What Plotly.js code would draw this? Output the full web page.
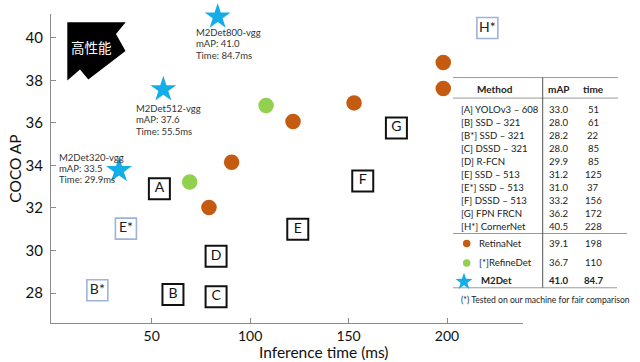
<!DOCTYPE html>
<html>
<head>
<meta charset="utf-8">
<script src="https://cdn.plot.ly/plotly-3.0.1.min.js"></script>
<style>html,body{margin:0;padding:0;background:#fff}#chart{width:640px;height:362px}</style>
</head>
<body>
<div id="chart"></div>
<script>
// ---- data ----
const boxLabels = ['A', 'B', 'C', 'D', 'E', 'F', 'G'];
const boxTime   = [53.9, 60.8, 82.7, 82.7, 124.2, 157.2, 174.3];
const boxAP     = [32.9, 27.93, 27.83, 29.73, 31.0, 33.27, 35.76];

const starBoxLabels = ['B*', 'E*', 'H*'];
const starBoxTime   = [22.4, 36.9, 220.5];
const starBoxAP     = [28.13, 31.03, 40.46];

const retinaTime = [79.1, 90.6, 121.8, 152.8, 198.1, 198.1];
const retinaAP   = [32.02, 34.15, 36.07, 36.94, 37.62, 38.84];

const refineTime = [69.3, 108.1];
const refineAP   = [33.22, 36.82];

const m2detNames = ['M2Det320-vgg', 'M2Det512-vgg', 'M2Det800-vgg'];
const m2detTime  = [33.4, 55.9, 83.5];
const m2detAP    = [33.77, 37.57, 40.99];
const m2detMAPText  = ['33.5', '37.6', '41.0'];
const m2detTimeText = ['29.9', '55.5', '84.7'];

const tableMethods = ['[A] YOLOv3 \u2013 608', '[B] SSD \u2013 321', '[B*] SSD \u2013 321', '[C] DSSD \u2013 321',
  '[D] R-FCN', '[E] SSD \u2013 513', '[E*] SSD \u2013 513', '[F] DSSD \u2013 513', '[G] FPN FRCN', '[H*] CornerNet'];
const tableMAP  = ['33.0', '28.0', '28.2', '28.0', '29.9', '31.2', '31.0', '33.2', '36.2', '40.5'];
const tableTime = ['51', '61', '22', '85', '85', '125', '37', '156', '172', '228'];

const keyNames = ['RetinaNet', '[*]RefineDet', '<b>M2Det</b>'];
const keyMAP   = ['39.1', '36.7', '<b>41.0</b>'];
const keyTime  = ['198', '110', '<b>84.7</b>'];

const xTicks = [50, 100, 150, 200];
const yTicks = [28, 30, 32, 34, 36, 38, 40];

// ---- styling / layout helpers ----
const ORANGE = '#c55a11', GREEN = '#92d050', BLUE = '#13aee8';
const FONT = 'Lato, "Open Sans", sans-serif';
const TFS = 9.6; // table font size
const L = 51, R = 523, T = 14, B = 322.7;
const px = x => (x - L) / (R - L);
const py = y => (B - y) / (B - T);

const traces = [
  {
    type: 'scatter', mode: 'markers+text', x: boxTime, y: boxAP, text: boxLabels,
    textposition: 'middle center', textfont: {family: FONT, size: 14, color: '#111'},
    marker: {symbol: 'square-open', size: 21, color: '#111', line: {width: 2}},
    hoverinfo: 'skip', cliponaxis: false
  },
  {
    type: 'scatter', mode: 'markers+text', x: starBoxTime, y: starBoxAP, text: starBoxLabels,
    textposition: 'middle center', textfont: {family: FONT, size: 14, color: '#222'},
    marker: {symbol: 'square-open', size: 21, color: '#9db3dc', line: {width: 1.6}},
    hoverinfo: 'skip', cliponaxis: false
  },
  {
    type: 'scatter', mode: 'markers', x: retinaTime, y: retinaAP,
    marker: {symbol: 'circle', size: 15.5, color: ORANGE}, cliponaxis: false
  },
  {
    type: 'scatter', mode: 'markers', x: refineTime, y: refineAP,
    marker: {symbol: 'circle', size: 15.5, color: GREEN}, cliponaxis: false
  },
  {
    type: 'scatter', mode: 'markers', x: m2detTime, y: m2detAP,
    marker: {symbol: 'star', size: 19.5, color: BLUE}, cliponaxis: false
  }
];

const annotations = [];
const shapes = [];

// star labels (offsets in pixels from the star)
const labelOffsets = [[-61.7, -13.3], [-29, 19], [-23.4, 15.6]];
m2detNames.forEach((n, i) => {
  const lines = [n, 'mAP: ' + m2detMAPText[i], 'Time: ' + m2detTimeText[i] + 'ms'];
  lines.forEach((t, k) => {
    annotations.push({
      x: m2detTime[i], y: m2detAP[i], xref: 'x', yref: 'y', text: t, showarrow: false,
      xanchor: 'left', yanchor: 'middle',
      xshift: labelOffsets[i][0], yshift: -(labelOffsets[i][1] + k * 11.4),
      font: {family: FONT, size: 9.5, color: '#333'}
    });
  });
});

// table text
const hdrY = 89.3;
[['<b>Method</b>', 495], ['<b>mAP</b>', 558.5], ['<b>time</b>', 593]].forEach(h => {
  annotations.push({xref: 'paper', yref: 'paper', x: px(h[1]), y: py(hdrY), text: h[0], showarrow: false,
    xanchor: 'center', yanchor: 'middle', font: {family: FONT, size: TFS + 0.4, color: '#222'}});
});
tableMethods.forEach((m, i) => {
  const yy = py(109.5 + i * 13.0);
  annotations.push({xref: 'paper', yref: 'paper', x: px(458.5), y: yy, text: m, showarrow: false,
    xanchor: 'left', yanchor: 'middle', font: {family: FONT, size: TFS, color: '#222'}});
  annotations.push({xref: 'paper', yref: 'paper', x: px(558.5), y: yy, text: tableMAP[i], showarrow: false,
    xanchor: 'center', yanchor: 'middle', font: {family: FONT, size: TFS, color: '#222'}});
  annotations.push({xref: 'paper', yref: 'paper', x: px(593), y: yy, text: tableTime[i], showarrow: false,
    xanchor: 'center', yanchor: 'middle', font: {family: FONT, size: TFS, color: '#222'}});
});
const keyY = [243.3, 262.7, 280.7];
keyNames.forEach((m, i) => {
  const yy = py(keyY[i]);
  annotations.push({xref: 'paper', yref: 'paper', x: px(i === 2 ? 478.5 : 476.5), y: yy, text: m, showarrow: false,
    xanchor: 'left', yanchor: 'middle', font: {family: FONT, size: TFS, color: '#222'}});
  annotations.push({xref: 'paper', yref: 'paper', x: px(558.5), y: yy, text: keyMAP[i], showarrow: false,
    xanchor: 'center', yanchor: 'middle', font: {family: FONT, size: TFS, color: '#222'}});
  annotations.push({xref: 'paper', yref: 'paper', x: px(593), y: yy, text: keyTime[i], showarrow: false,
    xanchor: 'center', yanchor: 'middle', font: {family: FONT, size: TFS, color: '#222'}});
});
annotations.push({xref: 'paper', yref: 'paper', x: px(545.5), y: py(299.5),
  text: '(*) Tested on our machine for fair comparison', showarrow: false,
  xanchor: 'center', yanchor: 'middle', font: {family: FONT, size: 8.6, color: '#222'}});

// table lines
const hline = (x0, x1, y) => shapes.push({type: 'line', xref: 'paper', yref: 'paper',
  x0: px(x0), x1: px(x1), y0: py(y), y1: py(y), line: {color: '#9a9a9a', width: 1}});
hline(453, 618, 77.5);
hline(453, 618, 98);
hline(453, 627, 233.3);
hline(453, 617, 287.5);
shapes.push({type: 'line', xref: 'paper', yref: 'paper', x0: px(542.7), x1: px(542.7),
  y0: py(77.5), y1: py(287.5), line: {color: '#555', width: 1}});

// key markers in the table
const circ = (cx, cy, d, col) => shapes.push({type: 'circle', xref: 'paper', yref: 'paper',
  x0: px(cx - d / 2), x1: px(cx + d / 2), y0: py(cy + d / 2), y1: py(cy - d / 2),
  fillcolor: col, line: {width: 0}});
circ(466.7, 243.3, 7.5, ORANGE);
circ(466.7, 262.7, 7.5, GREEN);
(function () {
  const cx = 464, cy = 281.5, ro = 9, ri = 3.6;
  let d = '';
  for (let k = 0; k < 10; k++) {
    const r = k % 2 === 0 ? ro : ri;
    const a = -Math.PI / 2 + k * Math.PI / 5;
    const X = px(cx + r * Math.cos(a)), Y = py(cy + r * Math.sin(a));
    d += (k === 0 ? 'M' : 'L') + X.toFixed(5) + ',' + Y.toFixed(5);
  }
  shapes.push({type: 'path', xref: 'paper', yref: 'paper', path: d + 'Z', fillcolor: BLUE, line: {width: 0}});
})();

// "高性能" badge
(function () {
  const pts = [[67.3, 22.3], [125.7, 22.3], [116, 34], [125.5, 51], [88.3, 79.5], [80, 69.5], [67.3, 80.5]];
  const d = pts.map((p, k) => (k ? 'L' : 'M') + px(p[0]).toFixed(5) + ',' + py(p[1]).toFixed(5)).join('') + 'Z';
  shapes.push({type: 'path', xref: 'paper', yref: 'paper', path: d, fillcolor: '#000', line: {width: 0}});
})();
annotations.push({xref: 'paper', yref: 'paper', x: px(91.5), y: py(46.5), text: '高性能', showarrow: false,
  xanchor: 'center', yanchor: 'middle', font: {family: '"Noto Sans CJK JP", sans-serif', size: 13.5, color: '#fff'}});

// x axis title (offset to the right as in the reference)
annotations.push({xref: 'paper', yref: 'paper', x: px(323), y: py(352), text: 'Inference time (ms)', showarrow: false,
  xanchor: 'center', yanchor: 'middle', font: {family: FONT, size: 15.5, color: '#111'}});

const layout = {
  width: 640, height: 362,
  margin: {l: L, r: 640 - R, t: T, b: 362 - B, pad: 0},
  paper_bgcolor: '#fff', plot_bgcolor: '#fff',
  showlegend: false,
  font: {family: FONT, color: '#111'},
  xaxis: {
    range: [-1.15, 238.6], tickvals: xTicks, ticktext: xTicks.map(String),
    showgrid: false, zeroline: false, showline: true, linecolor: '#8a8a8a', linewidth: 1,
    ticks: 'inside', ticklen: 5, tickcolor: '#8a8a8a', ticklabelstandoff: 0,
    tickfont: {family: FONT, size: 14, color: '#111'}
  },
  yaxis: {
    range: [26.59, 41.12], tickvals: yTicks, ticktext: yTicks.map(String),
    showgrid: false, zeroline: false, showline: true, linecolor: '#8a8a8a', linewidth: 1,
    ticks: 'inside', ticklen: 5, tickcolor: '#8a8a8a', ticklabelstandoff: 4,
    tickfont: {family: FONT, size: 15, color: '#111'},
    title: {text: 'COCO AP', font: {family: FONT, size: 15.5, color: '#111'}, standoff: 0}
  },
  annotations: annotations,
  shapes: shapes
};

Plotly.newPlot('chart', traces, layout, {displayModeBar: false, staticPlot: true});
</script>
</body>
</html>
